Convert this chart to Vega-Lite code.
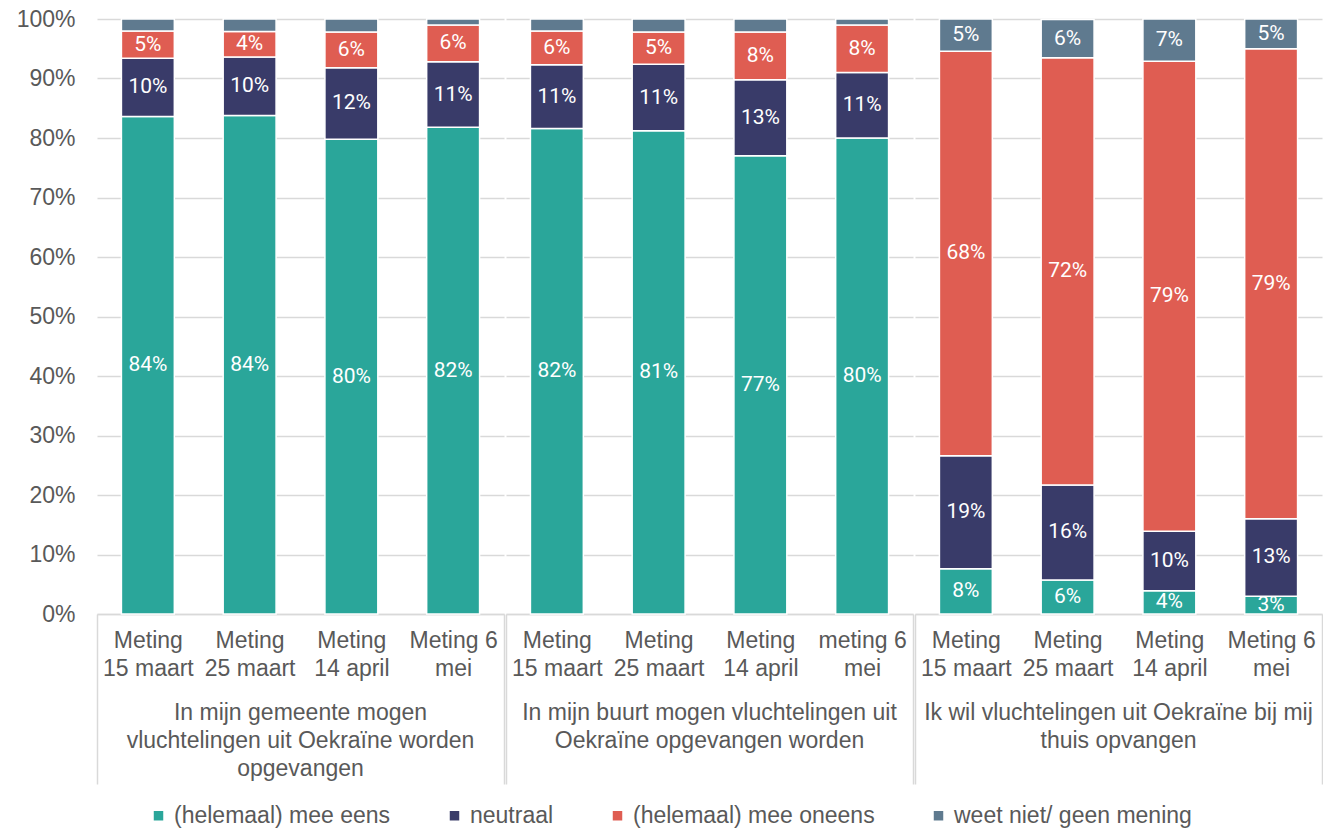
{
  "$schema": "https://vega.github.io/schema/vega-lite/v6.json",
  "padding": {"left": 16, "top": 8, "right": 0, "bottom": 0},
  "data": {"values": [
    {"stelling": "In mijn gemeente mogen vluchtelingen uit Oekraïne worden opgevangen", "meting": "Meting 15 maart", "antwoord": "(helemaal) mee eens", "k": 1, "value": 0.836},
    {"stelling": "In mijn gemeente mogen vluchtelingen uit Oekraïne worden opgevangen", "meting": "Meting 15 maart", "antwoord": "neutraal", "k": 2, "value": 0.098},
    {"stelling": "In mijn gemeente mogen vluchtelingen uit Oekraïne worden opgevangen", "meting": "Meting 15 maart", "antwoord": "(helemaal) mee oneens", "k": 3, "value": 0.046},
    {"stelling": "In mijn gemeente mogen vluchtelingen uit Oekraïne worden opgevangen", "meting": "Meting 15 maart", "antwoord": "weet niet/ geen mening", "k": 4, "value": 0.020},
    {"stelling": "In mijn gemeente mogen vluchtelingen uit Oekraïne worden opgevangen", "meting": "Meting 25 maart", "antwoord": "(helemaal) mee eens", "k": 1, "value": 0.838},
    {"stelling": "In mijn gemeente mogen vluchtelingen uit Oekraïne worden opgevangen", "meting": "Meting 25 maart", "antwoord": "neutraal", "k": 2, "value": 0.098},
    {"stelling": "In mijn gemeente mogen vluchtelingen uit Oekraïne worden opgevangen", "meting": "Meting 25 maart", "antwoord": "(helemaal) mee oneens", "k": 3, "value": 0.043},
    {"stelling": "In mijn gemeente mogen vluchtelingen uit Oekraïne worden opgevangen", "meting": "Meting 25 maart", "antwoord": "weet niet/ geen mening", "k": 4, "value": 0.021},
    {"stelling": "In mijn gemeente mogen vluchtelingen uit Oekraïne worden opgevangen", "meting": "Meting 14 april", "antwoord": "(helemaal) mee eens", "k": 1, "value": 0.798},
    {"stelling": "In mijn gemeente mogen vluchtelingen uit Oekraïne worden opgevangen", "meting": "Meting 14 april", "antwoord": "neutraal", "k": 2, "value": 0.120},
    {"stelling": "In mijn gemeente mogen vluchtelingen uit Oekraïne worden opgevangen", "meting": "Meting 14 april", "antwoord": "(helemaal) mee oneens", "k": 3, "value": 0.060},
    {"stelling": "In mijn gemeente mogen vluchtelingen uit Oekraïne worden opgevangen", "meting": "Meting 14 april", "antwoord": "weet niet/ geen mening", "k": 4, "value": 0.022},
    {"stelling": "In mijn gemeente mogen vluchtelingen uit Oekraïne worden opgevangen", "meting": "Meting 6 mei", "antwoord": "(helemaal) mee eens", "k": 1, "value": 0.818},
    {"stelling": "In mijn gemeente mogen vluchtelingen uit Oekraïne worden opgevangen", "meting": "Meting 6 mei", "antwoord": "neutraal", "k": 2, "value": 0.110},
    {"stelling": "In mijn gemeente mogen vluchtelingen uit Oekraïne worden opgevangen", "meting": "Meting 6 mei", "antwoord": "(helemaal) mee oneens", "k": 3, "value": 0.062},
    {"stelling": "In mijn gemeente mogen vluchtelingen uit Oekraïne worden opgevangen", "meting": "Meting 6 mei", "antwoord": "weet niet/ geen mening", "k": 4, "value": 0.010},
    {"stelling": "In mijn buurt mogen vluchtelingen uit Oekraïne opgevangen worden", "meting": "Meting 15 maart", "antwoord": "(helemaal) mee eens", "k": 1, "value": 0.816},
    {"stelling": "In mijn buurt mogen vluchtelingen uit Oekraïne opgevangen worden", "meting": "Meting 15 maart", "antwoord": "neutraal", "k": 2, "value": 0.107},
    {"stelling": "In mijn buurt mogen vluchtelingen uit Oekraïne opgevangen worden", "meting": "Meting 15 maart", "antwoord": "(helemaal) mee oneens", "k": 3, "value": 0.057},
    {"stelling": "In mijn buurt mogen vluchtelingen uit Oekraïne opgevangen worden", "meting": "Meting 15 maart", "antwoord": "weet niet/ geen mening", "k": 4, "value": 0.020},
    {"stelling": "In mijn buurt mogen vluchtelingen uit Oekraïne opgevangen worden", "meting": "Meting 25 maart", "antwoord": "(helemaal) mee eens", "k": 1, "value": 0.812},
    {"stelling": "In mijn buurt mogen vluchtelingen uit Oekraïne opgevangen worden", "meting": "Meting 25 maart", "antwoord": "neutraal", "k": 2, "value": 0.112},
    {"stelling": "In mijn buurt mogen vluchtelingen uit Oekraïne opgevangen worden", "meting": "Meting 25 maart", "antwoord": "(helemaal) mee oneens", "k": 3, "value": 0.054},
    {"stelling": "In mijn buurt mogen vluchtelingen uit Oekraïne opgevangen worden", "meting": "Meting 25 maart", "antwoord": "weet niet/ geen mening", "k": 4, "value": 0.022},
    {"stelling": "In mijn buurt mogen vluchtelingen uit Oekraïne opgevangen worden", "meting": "Meting 14 april", "antwoord": "(helemaal) mee eens", "k": 1, "value": 0.770},
    {"stelling": "In mijn buurt mogen vluchtelingen uit Oekraïne opgevangen worden", "meting": "Meting 14 april", "antwoord": "neutraal", "k": 2, "value": 0.128},
    {"stelling": "In mijn buurt mogen vluchtelingen uit Oekraïne opgevangen worden", "meting": "Meting 14 april", "antwoord": "(helemaal) mee oneens", "k": 3, "value": 0.080},
    {"stelling": "In mijn buurt mogen vluchtelingen uit Oekraïne opgevangen worden", "meting": "Meting 14 april", "antwoord": "weet niet/ geen mening", "k": 4, "value": 0.022},
    {"stelling": "In mijn buurt mogen vluchtelingen uit Oekraïne opgevangen worden", "meting": "meting 6 mei", "antwoord": "(helemaal) mee eens", "k": 1, "value": 0.800},
    {"stelling": "In mijn buurt mogen vluchtelingen uit Oekraïne opgevangen worden", "meting": "meting 6 mei", "antwoord": "neutraal", "k": 2, "value": 0.110},
    {"stelling": "In mijn buurt mogen vluchtelingen uit Oekraïne opgevangen worden", "meting": "meting 6 mei", "antwoord": "(helemaal) mee oneens", "k": 3, "value": 0.080},
    {"stelling": "In mijn buurt mogen vluchtelingen uit Oekraïne opgevangen worden", "meting": "meting 6 mei", "antwoord": "weet niet/ geen mening", "k": 4, "value": 0.010},
    {"stelling": "Ik wil vluchtelingen uit Oekraïne bij mij thuis opvangen", "meting": "Meting 15 maart", "antwoord": "(helemaal) mee eens", "k": 1, "value": 0.076},
    {"stelling": "Ik wil vluchtelingen uit Oekraïne bij mij thuis opvangen", "meting": "Meting 15 maart", "antwoord": "neutraal", "k": 2, "value": 0.190},
    {"stelling": "Ik wil vluchtelingen uit Oekraïne bij mij thuis opvangen", "meting": "Meting 15 maart", "antwoord": "(helemaal) mee oneens", "k": 3, "value": 0.680},
    {"stelling": "Ik wil vluchtelingen uit Oekraïne bij mij thuis opvangen", "meting": "Meting 15 maart", "antwoord": "weet niet/ geen mening", "k": 4, "value": 0.054},
    {"stelling": "Ik wil vluchtelingen uit Oekraïne bij mij thuis opvangen", "meting": "Meting 25 maart", "antwoord": "(helemaal) mee eens", "k": 1, "value": 0.057},
    {"stelling": "Ik wil vluchtelingen uit Oekraïne bij mij thuis opvangen", "meting": "Meting 25 maart", "antwoord": "neutraal", "k": 2, "value": 0.160},
    {"stelling": "Ik wil vluchtelingen uit Oekraïne bij mij thuis opvangen", "meting": "Meting 25 maart", "antwoord": "(helemaal) mee oneens", "k": 3, "value": 0.718},
    {"stelling": "Ik wil vluchtelingen uit Oekraïne bij mij thuis opvangen", "meting": "Meting 25 maart", "antwoord": "weet niet/ geen mening", "k": 4, "value": 0.064},
    {"stelling": "Ik wil vluchtelingen uit Oekraïne bij mij thuis opvangen", "meting": "Meting 14 april", "antwoord": "(helemaal) mee eens", "k": 1, "value": 0.039},
    {"stelling": "Ik wil vluchtelingen uit Oekraïne bij mij thuis opvangen", "meting": "Meting 14 april", "antwoord": "neutraal", "k": 2, "value": 0.100},
    {"stelling": "Ik wil vluchtelingen uit Oekraïne bij mij thuis opvangen", "meting": "Meting 14 april", "antwoord": "(helemaal) mee oneens", "k": 3, "value": 0.790},
    {"stelling": "Ik wil vluchtelingen uit Oekraïne bij mij thuis opvangen", "meting": "Meting 14 april", "antwoord": "weet niet/ geen mening", "k": 4, "value": 0.071},
    {"stelling": "Ik wil vluchtelingen uit Oekraïne bij mij thuis opvangen", "meting": "Meting 6 mei", "antwoord": "(helemaal) mee eens", "k": 1, "value": 0.030},
    {"stelling": "Ik wil vluchtelingen uit Oekraïne bij mij thuis opvangen", "meting": "Meting 6 mei", "antwoord": "neutraal", "k": 2, "value": 0.130},
    {"stelling": "Ik wil vluchtelingen uit Oekraïne bij mij thuis opvangen", "meting": "Meting 6 mei", "antwoord": "(helemaal) mee oneens", "k": 3, "value": 0.790},
    {"stelling": "Ik wil vluchtelingen uit Oekraïne bij mij thuis opvangen", "meting": "Meting 6 mei", "antwoord": "weet niet/ geen mening", "k": 4, "value": 0.050}
  ]},
  "facet": {
    "column": {
      "field": "stelling",
      "type": "nominal",
      "sort": ["In mijn gemeente mogen vluchtelingen uit Oekraïne worden opgevangen", "In mijn buurt mogen vluchtelingen uit Oekraïne opgevangen worden", "Ik wil vluchtelingen uit Oekraïne bij mij thuis opvangen"],
      "title": null,
      "header": {
        "labelOrient": "bottom",
        "labelFont": "Liberation Sans",
        "labelFontSize": 23,
        "labelColor": "#595959",
        "labelLineHeight": 28,
        "labelBaseline": "top",
        "labelPadding": -83,
        "labelLimit": 0,
        "labelExpr": "datum.value == 'In mijn gemeente mogen vluchtelingen uit Oekraïne worden opgevangen' ? ['In mijn gemeente mogen', 'vluchtelingen uit Oekraïne worden', 'opgevangen'] : (datum.value == 'In mijn buurt mogen vluchtelingen uit Oekraïne opgevangen worden' ? ['In mijn buurt mogen vluchtelingen uit', 'Oekraïne opgevangen worden'] : ['Ik wil vluchtelingen uit Oekraïne bij mij', 'thuis opvangen'])"
      }
    }
  },
  "spacing": 0,
  "resolve": {"scale": {"x": "independent"}},
  "spec": {
    "width": 407,
    "height": 595,
    "encoding": {
      "x": {
        "field": "meting",
        "type": "nominal",
        "sort": null,
        "scale": {"paddingInner": 0, "paddingOuter": 0},
        "axis": {
          "title": null,
          "labelAngle": 0,
          "labelFont": "Liberation Sans",
          "labelFontSize": 23,
          "labelColor": "#595959",
          "labelLineHeight": 28,
          "labelOverlap": false,
          "labelBound": false,
          "labelLimit": 0,
          "labelExpr": "indexof(datum.label, ' mei') > 0 ? [slice(datum.label, 0, -4), 'mei'] : [slice(datum.label, 0, 6), slice(datum.label, 7)]",
          "tickBand": "extent",
          "tickSize": 170,
          "tickColor": "#d9d9d9",
          "tickWidth": 1.5,
          "tickOpacity": {"condition": {"test": "datum.index < 0 || datum.index >= 1", "value": 1}, "value": 0},
          "labelPadding": -155,
          "domainColor": "#d9d9d9",
          "domainWidth": 1.5
        }
      },
      "y": {
        "field": "value",
        "type": "quantitative",
        "stack": "zero",
        "scale": {"domain": [0, 1]},
        "axis": {
          "title": null,
          "format": ".0%",
          "values": [0, 0.1, 0.2, 0.3, 0.4, 0.5, 0.6, 0.7, 0.8, 0.9, 1],
          "domain": false,
          "ticks": false,
          "labelFont": "Liberation Sans",
          "labelFontSize": 23,
          "labelColor": "#595959",
          "labelPadding": 21,
          "gridColor": "#d9d9d9",
          "gridWidth": 1.5
        }
      },
      "order": {"field": "k", "type": "quantitative"}
    },
    "layer": [
      {
        "mark": {"type": "bar", "width": {"band": 0.52}, "stroke": "white", "strokeWidth": 1.5},
        "encoding": {
          "color": {
            "field": "antwoord",
            "type": "nominal",
            "scale": {
              "domain": ["(helemaal) mee eens", "neutraal", "(helemaal) mee oneens", "weet niet/ geen mening"],
              "range": ["#2AA69A", "#393B69", "#DF5D52", "#5F7A8F"]
            },
            "legend": {
              "orient": "bottom",
              "direction": "horizontal",
              "title": null,
              "symbolType": "square",
              "symbolSize": 90,
              "symbolStrokeWidth": 0,
              "labelFont": "Liberation Sans",
              "labelFontSize": 23,
              "labelColor": "#595959",
              "labelLimit": 0,
              "columnPadding": 52,
              "offset": 19
            }
          }
        }
      },
      {
        "mark": {"type": "text", "font": "Roboto", "fontSize": 21, "color": "white"},
        "encoding": {
          "y": {"field": "value", "type": "quantitative", "stack": "zero", "bandPosition": 0.5},
          "detail": {"field": "antwoord", "type": "nominal"},
          "text": {"condition": {"test": "datum.value < 0.025", "value": ""}, "field": "value", "type": "quantitative", "format": ".0%"}
        }
      }
    ]
  },
  "config": {
    "view": {"stroke": null},
    "font": "Liberation Sans",
    "legend": {"layout": {"bottom": {"anchor": "middle"}}}
  }
}
